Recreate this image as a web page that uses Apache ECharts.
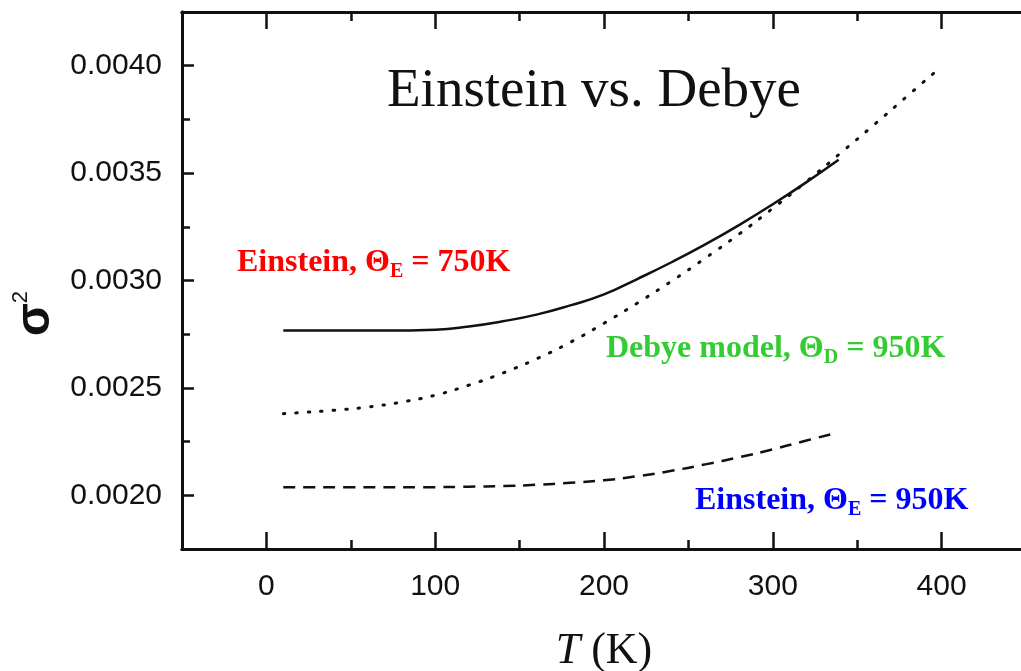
<!DOCTYPE html>
<html>
<head>
<meta charset="utf-8">
<script src="https://cdn.jsdelivr.net/npm/echarts@6/dist/echarts.min.js"></script>
<style>
  html, body { margin: 0; padding: 0; background: #fff; }
  #main { width: 1021px; height: 671px; }
</style>
</head>
<body>
<div id="main"></div>
<script>
// sigma^2 against T
var tEin750 = [10, 40, 70, 100, 120, 140, 160, 180, 200, 220, 240, 260, 280, 300, 320, 339];
var sEin750 = [0.002767, 0.002767, 0.002767, 0.002771, 0.002786, 0.00281, 0.002841, 0.002884,
               0.002935, 0.003008, 0.003085, 0.003168, 0.003258, 0.003355, 0.003458, 0.003562];

var tDebye = [10, 20, 40, 60, 80, 100, 120, 140, 160, 180, 200, 220, 240, 260, 280, 300, 320, 340, 360, 380, 400];
var sDebye = [0.00238, 0.002385, 0.002396, 0.002411, 0.002434, 0.002466, 0.002513, 0.002569, 0.002635,
              0.002712, 0.002801, 0.002896, 0.002997, 0.003104, 0.003216, 0.003336, 0.003461, 0.003592,
              0.003725, 0.003861, 0.003996];

var tEin950 = [10, 50, 100, 120, 140, 160, 180, 200, 220, 240, 260, 280, 300, 320, 334];
var sEin950 = [0.002037, 0.002037, 0.002038, 0.00204, 0.002043, 0.002049, 0.002058, 0.002070,
               0.002089, 0.002114, 0.002144, 0.002177, 0.002214, 0.002255, 0.002283];

// ticks
var xMajor = [0, 100, 200, 300, 400];
var xMinor = [50, 150, 250, 350];
var yMajor = [0.002, 0.0025, 0.003, 0.0035, 0.004];
var yMinor = [0.00225, 0.00275, 0.00325, 0.00375];

var pairs = function (xs, ys) {
  return xs.map(function (x, i) { return [x, ys[i]]; });
};

var chart = echarts.init(document.getElementById('main'));

var X_MIN = -50, X_MAX = 450, Y_MIN = 0.00175, Y_MAX = 0.00425;
var ink = '#111';

// one axis per tick length (long major, short minor), drawn on the same grid
var xAx = function (pos, ticks, len, withLabel) {
  return {
    type: 'value', position: pos, min: X_MIN, max: X_MAX,
    axisLine: { show: true, onZero: false, lineStyle: { color: ink, width: 3 } },
    axisTick: { show: true, inside: true, length: len, customValues: ticks, lineStyle: { color: ink, width: 2.5 } },
    axisLabel: withLabel ? {
      show: true, customValues: ticks, margin: 23, color: ink,
      fontFamily: 'Liberation Sans', fontSize: 30
    } : { show: false },
    splitLine: { show: false }
  };
};
var yAx = function (pos, ticks, len, withLabel) {
  return {
    type: 'value', position: pos, min: Y_MIN, max: Y_MAX,
    axisLine: { show: true, onZero: false, lineStyle: { color: ink, width: 3 } },
    axisTick: { show: true, inside: true, length: len, customValues: ticks, lineStyle: { color: ink, width: 2.5 } },
    axisLabel: withLabel ? {
      show: true, customValues: ticks, margin: 20, color: ink,
      fontFamily: 'Liberation Sans', fontSize: 30,
      formatter: function (v) { return v.toFixed(4); }
    } : { show: false },
    splitLine: { show: false }
  };
};

var xMain = xAx('bottom', xMajor, 17, true);
xMain.name = '{i|T} (K)';
xMain.nameLocation = 'middle';
xMain.nameGap = 80;
xMain.nameTextStyle = {
  color: ink, fontFamily: 'Liberation Serif', fontSize: 44,
  rich: { i: { fontStyle: 'italic', fontFamily: 'Liberation Serif', fontSize: 44, color: ink } }
};

var yMain = yAx('left', yMajor, 12, true);
yMain.name = '{s|σ}{p|2}';
yMain.nameLocation = 'middle';
yMain.nameGap = 106;
yMain.nameTextStyle = {
  color: ink, padding: [0, 66, 0, 0],
  rich: {
    s: { fontFamily: 'Liberation Sans', fontSize: 48, fontWeight: 'bold', lineHeight: 50, color: ink },
    p: { fontFamily: 'Liberation Sans', fontSize: 22, lineHeight: 22, verticalAlign: 'top', color: ink }
  }
};

var option = {
  animation: false,
  backgroundColor: '#fff',
  title: {
    text: 'Einstein vs. Debye',
    left: 382, top: 59,
    textStyle: { fontFamily: 'Liberation Serif', fontSize: 55, fontWeight: 'normal', color: ink }
  },
  grid: { left: 182, top: 12, width: 844, height: 537, containLabel: false, outerBoundsMode: 'none' },
  xAxis: [
    xMain,
    xAx('bottom', xMinor, 9, false),
    xAx('top', xMajor, 17, false),
    xAx('top', xMinor, 9, false)
  ],
  yAxis: [
    yMain,
    yAx('left', yMinor, 8, false)
  ],
  series: [
    {
      name: 'Debye model', type: 'line', smooth: true, showSymbol: false,
      data: pairs(tDebye, sDebye),
      lineStyle: { color: ink, width: 3, type: [1.5, 11], cap: 'round' }
    },
    {
      name: 'Einstein 750K', type: 'line', smooth: true, showSymbol: false,
      data: pairs(tEin750, sEin750),
      lineStyle: { color: ink, width: 2.5, type: 'solid' }
    },
    {
      name: 'Einstein 950K', type: 'line', smooth: true, showSymbol: false,
      data: pairs(tEin950, sEin950),
      lineStyle: { color: ink, width: 2.5, type: [12, 8] }
    }
  ]
};

chart.setOption(option);

// coloured labels with subscripts
var note = function (x, y, color, text) {
  return {
    type: 'text', left: x, top: y, z: 10,
    style: {
      text: text,
      rich: {
        b: { fontFamily: 'Liberation Serif', fontWeight: 'bold', fontSize: 32, lineHeight: 38, fill: color },
        s: { fontFamily: 'Liberation Serif', fontWeight: 'bold', fontSize: 20, lineHeight: 18, verticalAlign: 'bottom', fill: color }
      }
    }
  };
};
chart.setOption({
  graphic: [
    note(237, 247, '#ff0000', '{b|Einstein, Θ}{s|E}{b| = 750K}'),
    note(606, 333, '#33cc33', '{b|Debye model, Θ}{s|D}{b| = 950K}'),
    note(695, 485, '#0000ff', '{b|Einstein, Θ}{s|E}{b| = 950K}')
  ]
});
</script>
</body>
</html>
